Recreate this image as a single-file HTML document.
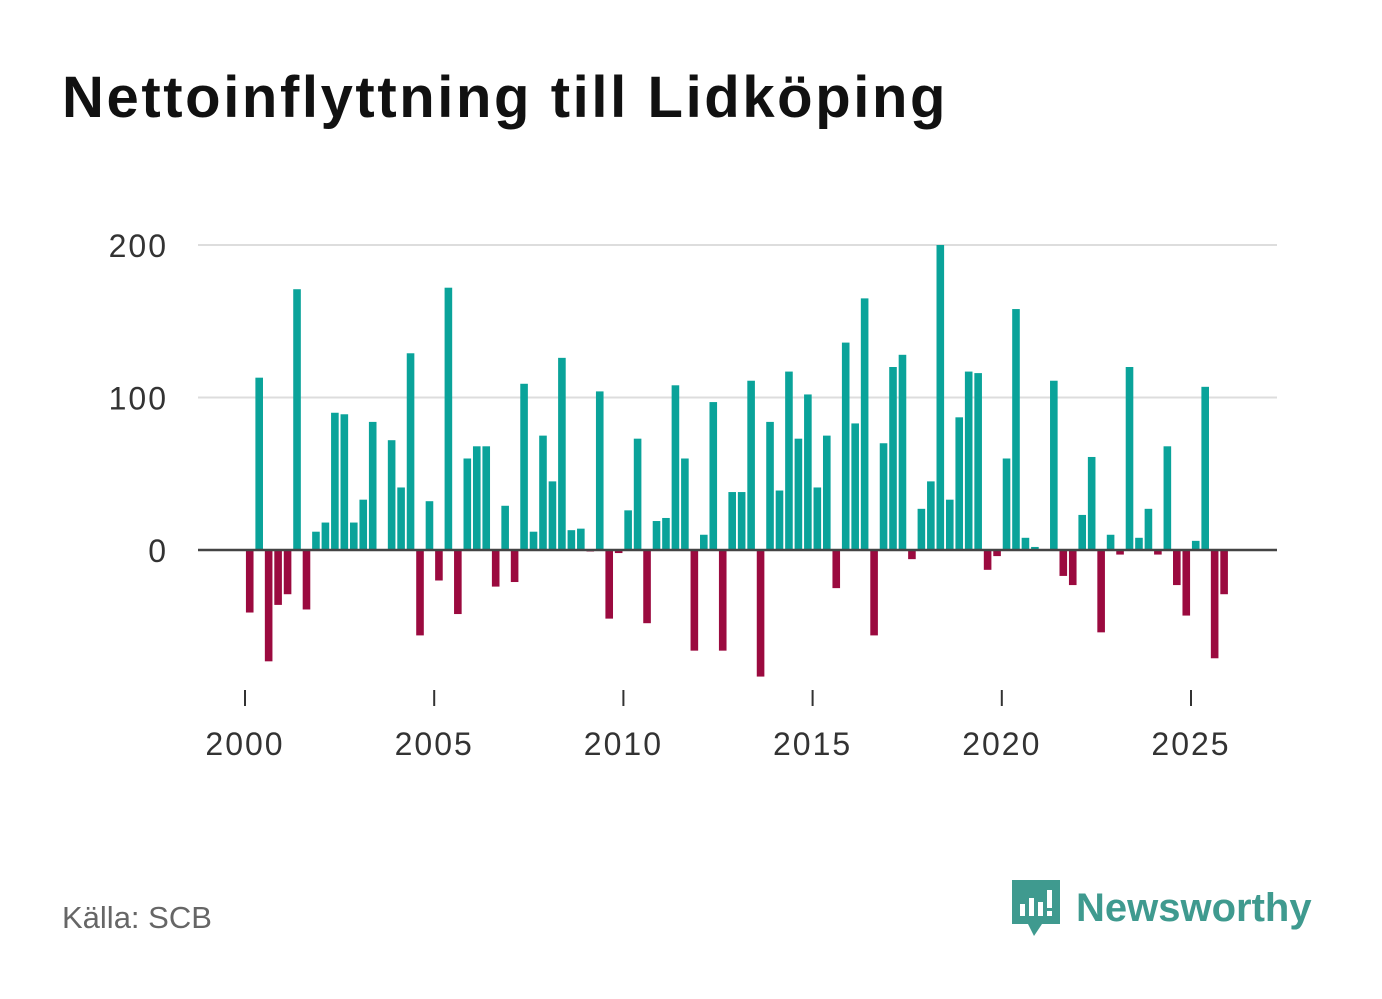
<!DOCTYPE html>
<html><head><meta charset="utf-8">
<style>
body{margin:0;width:1382px;height:999px;background:#fff;font-family:"Liberation Sans",sans-serif;overflow:hidden;position:relative}
#title{position:absolute;left:62px;top:64px;font-size:58px;font-weight:bold;color:#111;letter-spacing:2.6px}
#source{position:absolute;left:62px;top:900px;font-size:31px;color:#666}
#logo{position:absolute;left:1010px;top:878px;display:flex;align-items:center}
#logo span{font-size:40px;font-weight:bold;color:#3f9a8f;margin-left:14px}
</style></head><body>
<div id="title">Nettoinflyttning till Lidköping</div>
<svg id="chart" width="1382" height="999" style="position:absolute;left:0;top:0"></svg>
<div id="source">Källa: SCB</div>
<div id="logo">
<svg width="52" height="60" viewBox="0 0 52 60"><path d="M2 2h48v44H32l-8 12-6-12H2z" fill="#3f9a8f"/><rect x="10" y="26" width="5" height="12" fill="#fff"/><rect x="19" y="20" width="5" height="18" fill="#fff"/><rect x="28" y="24" width="5" height="14" fill="#fff"/><rect x="37" y="12" width="5" height="18" fill="#fff"/><rect x="37" y="33" width="5" height="5" fill="#fff"/></svg>
<span>Newsworthy</span></div>
<script>
const values=[-41,113,-73,-36,-29,171,-39,12,18,90,89,18,33,84,0,72,41,129,-56,32,-20,172,-42,60,68,68,-24,29,-21,109,12,75,45,126,13,14,-1,104,-45,-2,26,73,-48,19,21,108,60,-66,10,97,-66,38,38,111,-83,84,39,117,73,102,41,75,-25,136,83,165,-56,70,120,128,-6,27,45,200,33,87,117,116,-13,-4,60,158,8,2,0,111,-17,-23,23,61,-54,10,-3,120,8,27,-3,68,-23,-43,6,107,-71,-29];
const startYear=2000;
const yTicks=[0,100,200];
const xTicks=[2000,2005,2010,2015,2020,2025];
const svg=document.getElementById('chart');
const NS='http://www.w3.org/2000/svg';
const x=t=>245+(t-2000)*37.84;
const y=v=>550-v*1.525;
function mk(tag,attrs){const e=document.createElementNS(NS,tag);for(const k in attrs)e.setAttribute(k,attrs[k]);svg.appendChild(e);return e;}
yTicks.forEach(v=>{
 if(v!==0){const g=mk('line',{x1:198,x2:1277,y1:y(v),y2:y(v),stroke:'#ddd','stroke-width':2});
 
 }
 const t=mk('text',{x:168,y:y(v)+12,'text-anchor':'end','font-size':32,'letter-spacing':2,fill:'#333','font-family':'Liberation Sans, sans-serif'});
 t.textContent=v;
 
 
});
values.forEach((v,i)=>{
 const c=x(startYear+(i+0.5)/4);
 const r=mk('rect',{x:c-3.8,width:7.6,y:Math.min(y(v),y(0)),height:Math.abs(y(v)-y(0)),fill:v>=0?'#0aa39a':'#9b0a3f'});
 
 
});
const b=mk('line',{x1:198,x2:1277,y1:y(0),y2:y(0),stroke:'#444','stroke-width':2.5});


xTicks.forEach(t=>{
 const l=mk('line',{x1:x(t),x2:x(t),y1:690,y2:706,stroke:'#333','stroke-width':2});
 
 
 const tx=mk('text',{x:x(t),y:755,'text-anchor':'middle','font-size':32,'letter-spacing':2,fill:'#333','font-family':'Liberation Sans, sans-serif'});
 tx.textContent=t;
 
 
});
</script>
</body></html>
